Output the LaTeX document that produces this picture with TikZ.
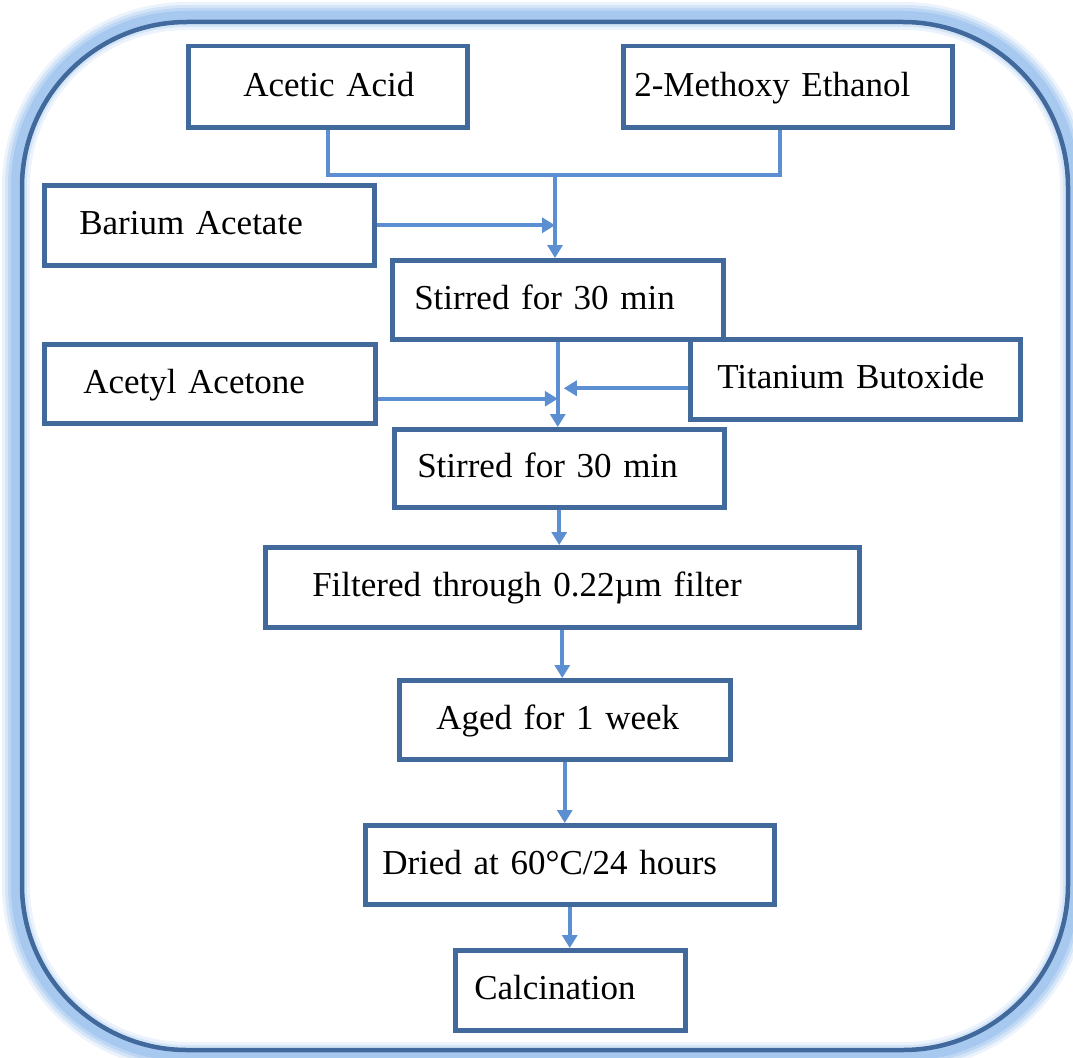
\documentclass[tikz,border=0pt]{standalone}
\usepackage{fontspec}
\setmainfont{Liberation Serif}
\usepackage{xcolor}
\definecolor{frame}{HTML}{41699C}
\definecolor{halo}{HTML}{9EC4EE}
\definecolor{pipe}{HTML}{5B8FD2}
\usepackage{tikz}
\usetikzlibrary{arrows.meta,positioning,calc}
\tikzset{
  >=Triangle,
  font=\fontsize{35}{42}\selectfont,
  box/.style={draw=frame,line width=4.5pt,fill=white,anchor=north west,align=left,
              inner xsep=0pt,inner ysep=0pt},
  pipe/.style={line width=4.2pt,draw=pipe},
  flow/.style={pipe,-{Triangle[length=13pt,width=15pt]}},
}
% left indent, then the line with a fixed height and depth
\newcommand{\lead}[2]{\hspace*{#1pt}\raisebox{0pt}[0.72em][0.18em]{#2}}

\begin{document}
\begin{tikzpicture}[x=1pt,y=-1pt]
  \useasboundingbox (0,0) rectangle (1073,1057);

  % outer frame with soft glow
  \foreach \w/\o in {28/0.2,22/0.3,16/0.45,10/0.7}
    \draw[draw=halo,line width=\w pt,opacity=\o,rounded corners=170pt] (16,16) rectangle (1074,1056);
  \draw[draw=frame,line width=4.5pt,rounded corners=165pt] (22,22) rectangle (1068,1050);

  \node[box,text width=279pt,minimum height=81pt] (acetic)   at (186,44)  {\lead{55}{Acetic Acid}};
  \node[box,text width=329pt,minimum height=81pt] (methoxy)  at (621,44)  {\lead{11}{2-Methoxy Ethanol}};
  \node[box,text width=330pt,minimum height=80pt] (barium)   at (42,183)  {\lead{35}{Barium Acetate}};
  \node[box,text width=331pt,minimum height=79pt] (stir1)    at (390,258) {\lead{22}{Stirred for 30 min}};
  \node[box,text width=331pt,minimum height=79pt] (acetyl)   at (42,342)  {\lead{39}{Acetyl Acetone}};
  \node[box,text width=330pt,minimum height=80pt] (titanium) at (688,337) {\lead{27}{Titanium Butoxide}};
  \node[box,text width=330pt,minimum height=78pt] (stir2)    at (392,427) {\lead{23}{Stirred for 30 min}};
  \node[box,text width=594pt,minimum height=80pt] (filtered) at (263,545) {\lead{47}{Filtered through 0.22µm filter}};
  \node[box,text width=331pt,minimum height=79pt] (aged)     at (397,678) {\lead{37}{Aged for 1 week}};
  \node[box,text width=409pt,minimum height=79pt] (dried)    at (363,823) {\lead{17}{Dried at 60°C/24 hours}};
  \node[box,text width=230pt,minimum height=80pt] (calc)     at (453,948) {\lead{19}{Calcination}};

  % solvents merge, then additions
  \coordinate (mix) at (555,175);
  \draw[pipe] (acetic.south) |- (mix) -| ($(methoxy.south)+(-8,0)$);
  \draw[flow] (mix) -- (mix |- stir1.north);
  \draw[flow] (barium.east) -- (barium.east -| mix);
  \draw[flow] (stir1.south) -- (stir1.south |- stir2.north);
  \draw[flow] ($(acetyl.east)+(0,15)$) -- ($(acetyl.east -| stir1.south)+(0,15)$);
  \draw[flow] ($(titanium.west)+(0,9)$) -- ($(titanium.west -| stir1.south)+(6,9)$);

  \foreach \a/\b in {stir2/filtered,filtered/aged,aged/dried,dried/calc}
    \draw[flow] (\a.south) -- (\a.south |- \b.north);
\end{tikzpicture}
\end{document}
